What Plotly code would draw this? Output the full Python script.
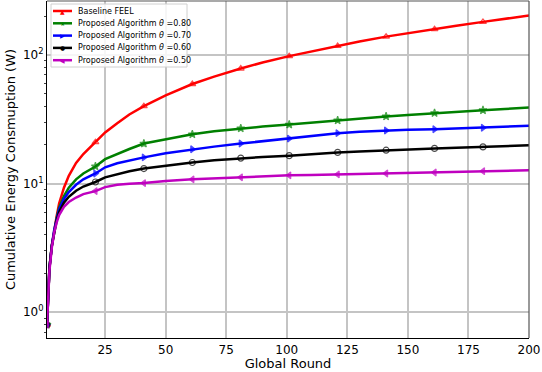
import plotly.graph_objects as go

rounds = [1, 2, 3, 4, 5, 6, 8, 10, 13, 16, 21, 25, 30, 35, 41, 50, 61, 70, 81, 90,
          101, 110, 121, 130, 141, 150, 161, 170, 181, 190, 200]

baseline = [0.8, 2.2, 3.3, 4.5, 5.6, 7.0, 9.3, 11.5, 14.5, 17.0, 21.0, 25.0, 29.5, 34.5, 40.0,
            48.5, 59.5, 68.0, 78.5, 87.5, 98.0, 106.5, 117.5, 127.5, 139.0, 148.0, 159.0,
            169.0, 181.0, 191.0, 203.0]
theta_080 = [0.8, 2.2, 3.3, 4.4, 5.4, 6.5, 8.0, 9.3, 10.8, 12.0, 13.6, 15.5, 17.0, 18.6, 20.5,
             22.0, 24.2, 25.5, 26.9, 27.8, 28.8, 29.8, 31.0, 32.0, 33.3, 34.2, 35.4,
             36.2, 37.2, 38.1, 39.0]
theta_070 = [0.8, 2.2, 3.3, 4.4, 5.3, 6.3, 7.6, 8.6, 9.8, 10.8, 12.0, 13.4, 14.4, 15.2, 16.0,
             17.2, 18.5, 19.4, 20.5, 21.4, 22.4, 23.5, 24.7, 25.3, 25.9, 26.2, 26.5,
             26.9, 27.2, 27.7, 28.2]
theta_060 = [0.8, 2.2, 3.3, 4.3, 5.2, 6.0, 7.1, 7.9, 8.8, 9.5, 10.3, 11.2, 11.9, 12.5, 13.1,
             13.8, 14.6, 15.2, 15.8, 16.1, 16.5, 17.0, 17.5, 17.8, 18.2, 18.5, 18.8,
             19.0, 19.3, 19.6, 19.9]
theta_050 = [0.8, 2.1, 3.2, 4.2, 5.0, 5.7, 6.6, 7.2, 7.8, 8.3, 8.75, 9.4, 9.8, 10.0, 10.1,
             10.5, 10.8, 11.0, 11.2, 11.4, 11.6, 11.7, 11.8, 11.9, 12.0, 12.1, 12.2,
             12.35, 12.5, 12.6, 12.7]

marker_rounds = [1, 21, 41, 61, 81, 101, 121, 141, 161, 181]
x_ticks = [25, 50, 75, 100, 125, 150, 175, 200]
y_ticks = [1, 10, 100]
y_tick_text = ["10<sup>0</sup>", "10<sup>1</sup>", "10<sup>2</sup>"]
y_minor_ticks = [0.7, 0.8, 0.9, 2, 3, 4, 5, 6, 7, 8, 9, 20, 30, 40, 50, 60, 70, 80, 90, 200]

series = [
    ("Baseline FEEL", baseline, "#ff0000", "triangle-up-open", "▲"),
    ("Proposed Algorithm <i>θ</i> =0.80", theta_080, "#008000", "star", "★"),
    ("Proposed Algorithm <i>θ</i> =0.70", theta_070, "#0000ff", "triangle-right", "▶"),
    ("Proposed Algorithm <i>θ</i> =0.60", theta_060, "#000000", "circle-open", "●"),
    ("Proposed Algorithm <i>θ</i> =0.50", theta_050, "#bf00bf", "triangle-left", "◀"),
]

W, H = 542, 372
L, R, T, B = 47, 13, 1, 34
PW, PH = W - L - R, H - T - B


def px(x):
    return (x - L) / PW


def py(y):
    return 1 - (y - T) / PH


font = "DejaVu Sans, Verdana, sans-serif"
fig = go.Figure()
shapes = []
annotations = []
# legend box
shapes.append(dict(type="rect", xref="paper", yref="paper", x0=px(51), x1=px(187),
                   y0=py(67), y1=py(4), line=dict(color="#d0d0d0", width=1),
                   fillcolor="rgba(255,255,255,0.85)", layer="above"))
for i, (name, vals, color, sym, glyph) in enumerate(series):
    sizes = [6 if r in marker_rounds else 0 for r in rounds]
    fig.add_trace(go.Scatter(
        x=rounds, y=vals, name=name, mode="lines+markers", showlegend=False,
        line=dict(color=color, width=2.5),
        marker=dict(symbol=sym, size=sizes, color=color, line=dict(color=color, width=1.2)),
    ))
    yrow = 11 + i * 12.3
    shapes.append(dict(type="line", xref="paper", yref="paper", x0=px(53), x1=px(72),
                       y0=py(yrow), y1=py(yrow), line=dict(color=color, width=2.5),
                       layer="above"))
    annotations.append(dict(xref="paper", yref="paper", x=px(62.5), y=py(yrow),
                            text=glyph, showarrow=False, xanchor="center", yanchor="middle",
                            font=dict(size=6, color=color, family=font)))
    annotations.append(dict(xref="paper", yref="paper", x=px(75.5), y=py(yrow),
                            text=name, showarrow=False, xanchor="left", yanchor="middle",
                            font=dict(size=8, color="black", family=font)))

fig.update_layout(
    width=W, height=H,
    margin=dict(l=L, r=R, t=T, b=B),
    paper_bgcolor="white", plot_bgcolor="white",
    font=dict(family=font, size=12, color="black"),
    showlegend=False,
    xaxis=dict(range=[1, 200], tickvals=x_ticks, showgrid=True, gridcolor="#c4c4c4",
               gridwidth=1.5, zeroline=False, showline=True, linecolor="black", linewidth=1.2,
               ticks="",
               title=dict(text="Global Round", font=dict(size=13), standoff=1),
               tickfont=dict(size=12)),
    yaxis=dict(type="log", range=[-0.2, 2.42], tickvals=y_ticks, ticktext=y_tick_text,
               showgrid=True, gridcolor="#c4c4c4", gridwidth=1.5, zeroline=False,
               showline=True, linecolor="black", linewidth=1.2,
               ticks="",
               minor=dict(ticks="outside", ticklen=2, tickcolor="#444444", showgrid=False,
                          tickvals=y_minor_ticks),
               title=dict(text="Cumulative Energy Consmuption (W)", font=dict(size=13), standoff=4),
               tickfont=dict(size=12)),
    shapes=shapes,
    annotations=annotations,
)
# top/right frame spines
fig.add_shape(type="line", xref="paper", yref="paper", x0=0, x1=1, y0=1, y1=1,
              line=dict(color="#555555", width=1.2))
fig.add_shape(type="line", xref="paper", yref="paper", x0=1, x1=1, y0=0, y1=1,
              line=dict(color="#555555", width=1.2))

fig.write_html("out.html", post_script="document.body.style.margin='0';",
               config={"displayModeBar": False})
